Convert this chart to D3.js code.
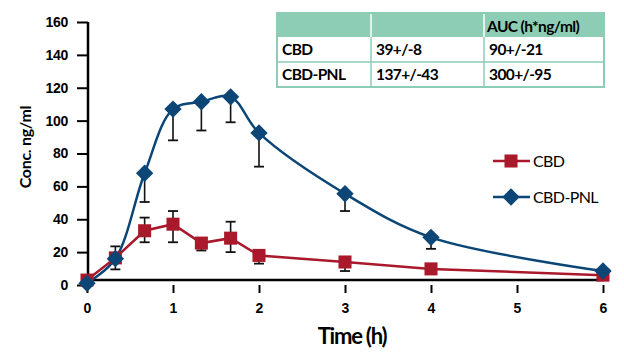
<!DOCTYPE html>
<html><head><meta charset="utf-8">
<script src="https://cdn.jsdelivr.net/npm/d3@7"></script>
<style>body{margin:0;background:#fff;} svg{display:block;font-family:Lato,"Open Sans",sans-serif;}</style>
</head><body><svg id="c" width="624" height="352"></svg>
<script>
const times = [0, 0.33, 0.67, 1, 1.33, 1.67, 2, 3, 4, 6];
const cbd = [3, 16.5, 33, 37, 25.5, 28.5, 18, 14, 9.8, 6];
const cbdErrUp = [0, 7, 8, 8, 0, 10, 0, 0, 0, 0];
const cbdErrDown = [0, 7, 7, 11, 4.5, 8.5, 5, 5.5, 0, 0];
const pnl = [1, 16, 68, 107, 111.5, 114.5, 92.5, 55.5, 29, 8.5];
const pnlErrDown = [0, 0, 17.5, 19, 17.5, 15.5, 20.5, 10.5, 7, 0];
const xTicks = [0, 1, 2, 3, 4, 5, 6];
const yTicks = [0, 20, 40, 60, 80, 100, 120, 140, 160];
const seriesNames = ["CBD", "CBD-PNL"];
const tableHeader = ["", "", "AUC (h*ng/ml)"];
const tableRows = [["CBD", "39+/-8", "90+/-21"], ["CBD-PNL", "137+/-43", "300+/-95"]];

const RED = "#a9192b", BLUE = "#0b4677", MINT = "#8dcdb5";
const svg = d3.select("#c");
const x = d3.scaleLinear().domain([0, 6]).range([87, 603]);
const y = d3.scaleLinear().domain([0, 160]).range([285, 22]);

// Y axis
const ya = svg.append("g").attr("transform", "translate(88,0)")
  .call(d3.axisLeft(y).tickValues(yTicks).tickSize(11).tickPadding(9));
ya.select(".domain").remove();
ya.selectAll(".tick line").attr("stroke", "#000").attr("stroke-width", 2);
ya.selectAll(".tick text").attr("font-size", 14).attr("font-weight", "bold").attr("fill", "#000").attr("letter-spacing", -0.3);
svg.append("line").attr("x1", 88).attr("x2", 88).attr("y1", y(160)).attr("y2", 281)
  .attr("stroke", "#000").attr("stroke-width", 2.5);

// X axis
const xa = svg.append("g").attr("transform", "translate(0,285)")
  .call(d3.axisBottom(x).tickValues(xTicks).tickFormat(d3.format("d")).tickSize(8).tickPadding(10).tickSizeOuter(0));
xa.select(".domain").remove();
xa.selectAll(".tick line").attr("stroke", "#000").attr("stroke-width", 2);
xa.selectAll(".tick text").attr("font-size", 14).attr("font-weight", "bold").attr("fill", "#000");
svg.append("line").attr("x1", 87).attr("x2", 604).attr("y1", 280).attr("y2", 280)
  .attr("stroke", "#000").attr("stroke-width", 2.5);

// Axis titles
svg.append("text").attr("x", 352).attr("y", 344).attr("text-anchor", "middle")
  .attr("font-size", 22).attr("font-weight", "bold").attr("letter-spacing", -1.2).text("Time (h)");
svg.append("text").attr("transform", "translate(31,147) rotate(-90)").attr("text-anchor", "middle")
  .attr("font-size", 16).attr("font-weight", "bold").attr("letter-spacing", -0.3).text("Conc. ng/ml");

// Error bars
times.forEach((t, i) => {
  if (cbdErrUp[i] > 0 || cbdErrDown[i] > 0) {
    const lo = cbd[i] - cbdErrDown[i], hi = cbd[i] + cbdErrUp[i];
    svg.append("line").attr("x1", x(t)).attr("x2", x(t)).attr("y1", y(lo)).attr("y2", y(hi))
      .attr("stroke", "#111").attr("stroke-width", 1.6);
    if (cbdErrDown[i] > 0) svg.append("line").attr("x1", x(t) - 5).attr("x2", x(t) + 5).attr("y1", y(lo)).attr("y2", y(lo)).attr("stroke", "#111").attr("stroke-width", 1.8);
    if (cbdErrUp[i] > 0) svg.append("line").attr("x1", x(t) - 5).attr("x2", x(t) + 5).attr("y1", y(hi)).attr("y2", y(hi)).attr("stroke", "#111").attr("stroke-width", 1.8);
  }
  if (pnlErrDown[i] > 0) {
    const lo = pnl[i] - pnlErrDown[i];
    svg.append("line").attr("x1", x(t)).attr("x2", x(t)).attr("y1", y(lo)).attr("y2", y(pnl[i]))
      .attr("stroke", "#111").attr("stroke-width", 1.6);
    svg.append("line").attr("x1", x(t) - 5).attr("x2", x(t) + 5).attr("y1", y(lo)).attr("y2", y(lo))
      .attr("stroke", "#111").attr("stroke-width", 1.8);
  }
});

// Lines
const cbdLine = d3.line().x((d, i) => x(times[i])).y(d => y(d));
svg.append("path").datum(cbd).attr("d", cbdLine).attr("fill", "none").attr("stroke", RED).attr("stroke-width", 2.5);
const pnlLine = d3.line().x((d, i) => x(times[i])).y(d => y(d)).curve(d3.curveCatmullRom.alpha(0.5));
svg.append("path").datum(pnl).attr("d", pnlLine).attr("fill", "none").attr("stroke", BLUE).attr("stroke-width", 2.5);

// Markers
const sq = d3.symbol().type(d3.symbolSquare).size(170);
const dm = d3.symbol().type(d3.symbolSquare).size(150);
svg.selectAll(".sq").data(cbd).enter().append("path")
  .attr("d", sq).attr("fill", RED)
  .attr("transform", (d, i) => `translate(${x(times[i])},${y(d)})`);
svg.selectAll(".dm").data(pnl).enter().append("path")
  .attr("d", dm).attr("fill", BLUE)
  .attr("transform", (d, i) => `translate(${x(times[i])},${y(d)}) rotate(45)`);

// Legend
const lg = [{n: seriesNames[0], c: RED, y: 161, s: sq, r: 0}, {n: seriesNames[1], c: BLUE, y: 197, s: dm, r: 45}];
lg.forEach(l => {
  svg.append("line").attr("x1", 493).attr("x2", 530).attr("y1", l.y).attr("y2", l.y).attr("stroke", l.c).attr("stroke-width", 2.5);
  svg.append("path").attr("d", l.s).attr("fill", l.c).attr("transform", `translate(511,${l.y}) rotate(${l.r})`);
  svg.append("text").attr("x", 533).attr("y", l.y + 6).attr("font-size", 16).attr("letter-spacing", -0.6).text(l.n);
});

// Table
const tx = [277, 371, 484, 604], ty = [13, 37, 62, 87];
svg.append("rect").attr("x", tx[0]).attr("y", ty[0]).attr("width", tx[3] - tx[0]).attr("height", ty[1] - ty[0]).attr("fill", MINT);
svg.append("rect").attr("x", tx[0]).attr("y", ty[0]).attr("width", tx[3] - tx[0]).attr("height", ty[3] - ty[0])
  .attr("fill", "none").attr("stroke", MINT).attr("stroke-width", 2);
[1, 2].forEach(j => {
  svg.append("line").attr("x1", tx[j]).attr("x2", tx[j]).attr("y1", ty[0] + 1).attr("y2", ty[1]).attr("stroke", "#fff").attr("stroke-width", 1.5);
  svg.append("line").attr("x1", tx[j]).attr("x2", tx[j]).attr("y1", ty[1]).attr("y2", ty[3]).attr("stroke", MINT).attr("stroke-width", 1.5);
});
svg.append("line").attr("x1", tx[0]).attr("x2", tx[3]).attr("y1", ty[2]).attr("y2", ty[2]).attr("stroke", MINT).attr("stroke-width", 1.5);
tableHeader.forEach((h, j) => {
  if (h) svg.append("text").attr("x", tx[j] + 3).attr("y", ty[0] + 19).attr("font-size", 15.5).attr("font-weight", "bold").attr("letter-spacing", -0.6).text(h);
});
tableRows.forEach((r, i) => {
  r.forEach((v, j) => {
    svg.append("text").attr("x", tx[j] + 5).attr("y", ty[i + 1] + 18).attr("font-size", 15.5).attr("font-weight", "bold").attr("letter-spacing", -0.6).text(v);
  });
});
</script></body></html>
